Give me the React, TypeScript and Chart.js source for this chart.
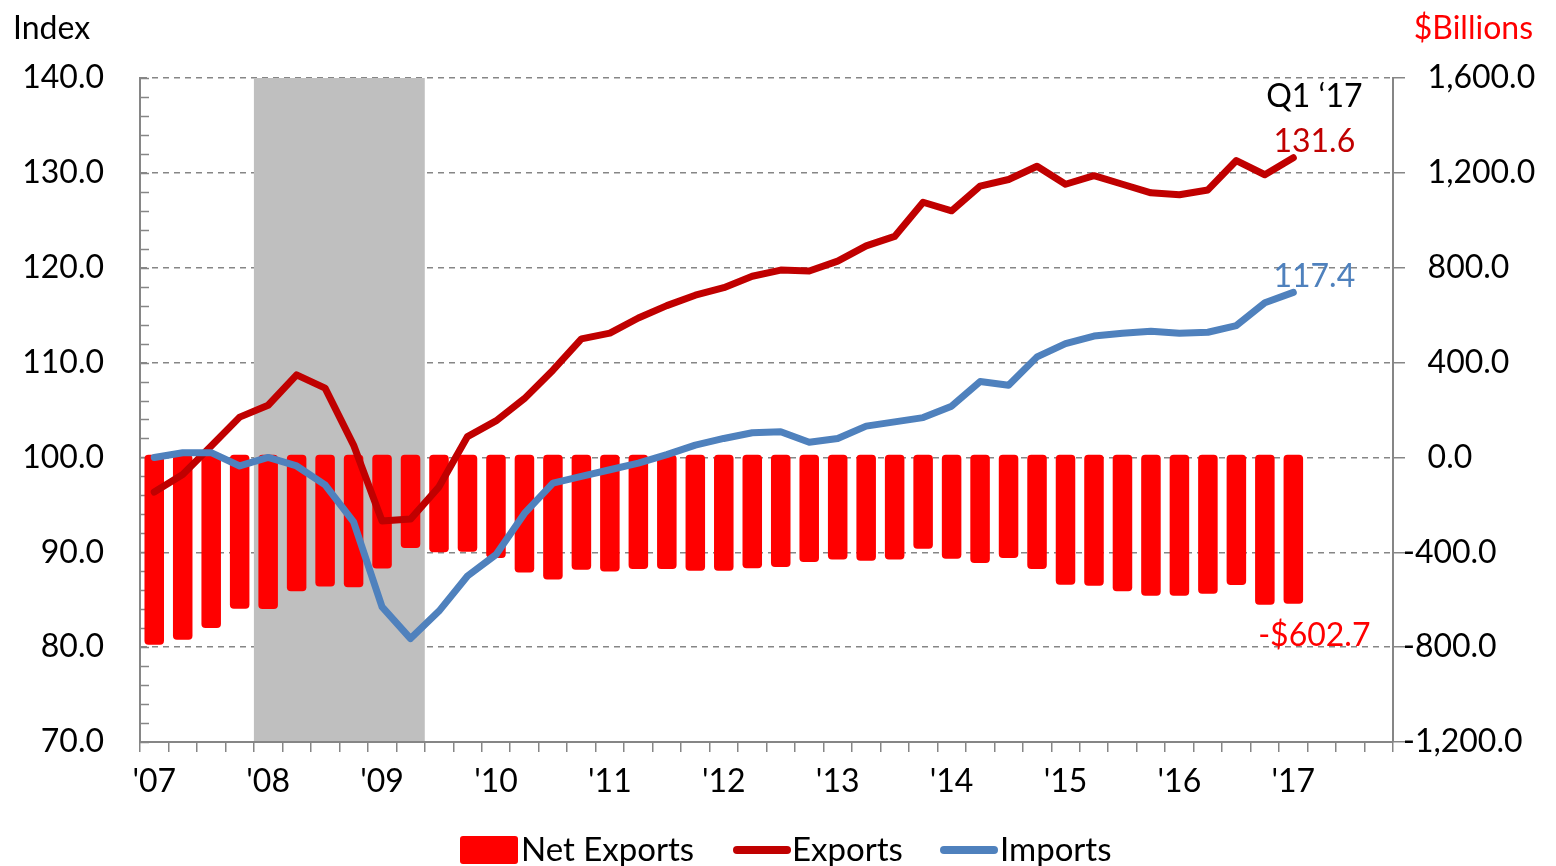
import React, { useEffect, useRef } from 'react';
import { Chart, registerables } from 'chart.js';

Chart.register(...registerables);

// ---- data ----
const yearLabels = ["'07", "'08", "'09", "'10", "'11", "'12", "'13", "'14", "'15", "'16", "'17"];
const quarterNames = ['Q1', 'Q2', 'Q3', 'Q4'];
const quarters: string[] = yearLabels.flatMap((y) => quarterNames.map((q) => `${q} ${y}`));

// Net exports, $ billions (right axis), Q1 '07 .. Q1 '17
const netExports = [
  -775, -754, -704, -623, -624, -550, -529, -533, -454, -367,
  -385, -383, -409, -471, -500, -459, -466, -456, -456, -463,
  -463, -453, -447, -426, -416, -421, -416, -370, -412, -430,
  -409, -456, -522, -526, -550, -568, -568, -560, -523, -606,
  -602.7,
];

// Exports index (left axis)
const exportsIdx = [
  96.35, 98.2, 101.2, 104.25, 105.5, 108.7, 107.3, 101.3, 93.3, 93.5,
  96.9, 102.2, 103.85, 106.2, 109.2, 112.5, 113.1, 114.7, 116.0, 117.1,
  117.9, 119.1, 119.75, 119.65, 120.7, 122.3, 123.3, 126.9, 126.0, 128.6,
  129.3, 130.7, 128.8, 129.7, 128.8, 127.9, 127.7, 128.2, 131.3, 129.8,
  131.6,
];

// Imports index (left axis)
const importsIdx = [
  100.0, 100.5, 100.5, 99.1, 100.0, 99.1, 97.1, 93.2, 84.25, 80.9,
  83.8, 87.5, 89.75, 94.1, 97.3, 98.0, 98.7, 99.4, 100.3, 101.3,
  102.0, 102.6, 102.7, 101.6, 102.0, 103.3, 103.75, 104.2, 105.4, 108.0,
  107.6, 110.6, 112.0, 112.8, 113.1, 113.3, 113.1, 113.2, 113.9, 116.3,
  117.4,
];

const recessionStart = "Q1 '08";
const recessionEnd = "Q2 '09";

const latestLabel = 'Q1 \u201817';
const exportsLabel = '131.6';
const importsLabel = '117.4';
const netLabel = '-$602.7';

const FONT = 'Lato, "Open Sans", sans-serif';
const AXIS_GRAY = '#868686';
const C_BAR = '#FF0000';
const C_EXP = '#C00000';
const C_IMP = '#4F81BD';

function fmtRight(v: number): string {
  const s = Math.abs(v).toLocaleString('en-US', { minimumFractionDigits: 1, maximumFractionDigits: 1 });
  return v < 0 ? '-' + s : '   ' + s;
}

const overlayPlugin = {
  id: 'overlay',
  beforeDatasetsDraw(chart: any) {
    const { ctx, chartArea, scales } = chart;
    const x = scales.x;
    const y = scales.y;
    const i0 = quarters.indexOf(recessionStart);
    const i1 = quarters.indexOf(recessionEnd);
    const xa = x.getPixelForValue(i0 - 0.5);
    const xb = x.getPixelForValue(i1 + 0.5);
    ctx.save();
    ctx.fillStyle = '#BFBFBF';
    ctx.fillRect(xa, chartArea.top, xb - xa, chartArea.bottom - chartArea.top - 1);
    // inside minor ticks on left axis
    ctx.strokeStyle = AXIS_GRAY;
    ctx.lineWidth = 1.5;
    for (let v = y.min; v <= y.max; v += 2) {
      const py = Math.round(y.getPixelForValue(v)) + 0.5;
      ctx.beginPath();
      ctx.moveTo(chartArea.left, py);
      ctx.lineTo(chartArea.left + 9, py);
      ctx.stroke();
    }
    ctx.restore();
  },
  afterDraw(chart: any) {
    const { ctx, scales } = chart;
    const x = scales.x;
    const y = scales.y;
    const y1 = scales.y1;
    const last = exportsIdx.length - 1;
    const px = x.getPixelForValue(last) + 21;
    ctx.save();
    ctx.textBaseline = 'middle';
    ctx.font = `32px ${FONT}`;
    // axis titles
    ctx.textAlign = 'left';
    ctx.fillStyle = '#000';
    ctx.fillText('Index', 13, 29);
    ctx.textAlign = 'right';
    ctx.fillStyle = C_BAR;
    ctx.fillText('$Billions', 1533, 29);
    // annotations
    ctx.textAlign = 'center';
    ctx.fillStyle = '#000';
    ctx.fillText(latestLabel, px, y.getPixelForValue(exportsIdx[last]) - 61);
    ctx.fillStyle = C_EXP;
    ctx.fillText(exportsLabel, px, y.getPixelForValue(exportsIdx[last]) - 16);
    ctx.fillStyle = C_IMP;
    ctx.fillText(importsLabel, px, y.getPixelForValue(importsIdx[last]) - 16);
    ctx.fillStyle = C_BAR;
    ctx.fillText(netLabel, px, y1.getPixelForValue(netExports[last]) + 35);

    // legend
    const ly = 850;
    ctx.font = `33px ${FONT}`;
    ctx.textAlign = 'left';
    ctx.fillStyle = C_BAR;
    ctx.beginPath();
    (ctx as any).roundRect(460, 836, 58, 28, 3);
    ctx.fill();
    ctx.fillStyle = '#000';
    ctx.fillText('Net Exports', 521, ly);
    ctx.lineCap = 'round';
    ctx.lineWidth = 8;
    ctx.strokeStyle = C_EXP;
    ctx.beginPath();
    ctx.moveTo(737, ly);
    ctx.lineTo(787, ly);
    ctx.stroke();
    ctx.fillText('Exports', 792, ly);
    ctx.strokeStyle = C_IMP;
    ctx.beginPath();
    ctx.moveTo(944, ly);
    ctx.lineTo(994, ly);
    ctx.stroke();
    ctx.fillText('Imports', 1000, ly);
    ctx.restore();
  },
};

export default function App() {
  const ref = useRef<HTMLCanvasElement | null>(null);

  useEffect(() => {
    document.body.style.margin = '0';
    const canvas = ref.current;
    if (!canvas) return;
    const tickFont = { family: FONT, size: 32 };
    const chart = new Chart(canvas, {
      type: 'bar',
      data: {
        labels: quarters,
        datasets: [
          {
            type: 'line',
            label: 'Imports',
            data: importsIdx,
            yAxisID: 'y',
            borderColor: C_IMP,
            backgroundColor: C_IMP,
            borderWidth: 7,
            pointRadius: 0,
            tension: 0,
            borderCapStyle: 'round',
            borderJoinStyle: 'round',
            fill: false,
            order: 1,
          } as any,
          {
            type: 'line',
            label: 'Exports',
            data: exportsIdx,
            yAxisID: 'y',
            borderColor: C_EXP,
            backgroundColor: C_EXP,
            borderWidth: 7,
            pointRadius: 0,
            tension: 0,
            borderCapStyle: 'round',
            borderJoinStyle: 'round',
            fill: false,
            order: 2,
          } as any,
          {
            type: 'bar',
            label: 'Net Exports',
            data: netExports,
            yAxisID: 'y1',
            backgroundColor: C_BAR,
            borderWidth: 0,
            borderRadius: { topLeft: 4, topRight: 4, bottomLeft: 4, bottomRight: 4 },
            borderSkipped: false,
            inflateAmount: 3.5,
            barPercentage: 0.44,
            categoryPercentage: 1,
            order: 3,
          } as any,
        ],
      },
      options: {
        responsive: false,
        animation: false,
        devicePixelRatio: 1,
        layout: { padding: { top: 78, bottom: 44, left: 0, right: 0 } },
        plugins: {
          legend: { display: false },
          tooltip: { enabled: false },
          title: { display: false },
        },
        scales: {
          x: {
            type: 'category',
            offset: true,
            grid: {
              display: true,
              offset: true,
              drawOnChartArea: false,
              drawTicks: true,
              tickLength: 10,
              color: AXIS_GRAY,
              lineWidth: 1.5,
            },
            border: { display: true, color: AXIS_GRAY, width: 2 },
            ticks: {
              autoSkip: false,
              maxRotation: 0,
              minRotation: 0,
              padding: 10,
              color: '#000',
              font: tickFont,
              callback: (_v: any, i: number) => (i % 4 === 0 ? yearLabels[i / 4] : ''),
            },
            afterFit: (s: any) => {
              s.height = 80;
            },
          },
          y: {
            position: 'left',
            min: 70,
            max: 140,
            ticks: {
              stepSize: 10,
              padding: 36,
              color: '#000',
              font: tickFont,
              callback: (v: any) => Number(v).toFixed(1),
            },
            grid: {
              color: AXIS_GRAY,
              lineWidth: 1.5,
              drawTicks: false,
            },
            border: { display: true, color: AXIS_GRAY, width: 2, dash: [6, 5] },
            afterFit: (s: any) => {
              s.width = 140;
            },
          },
          y1: {
            position: 'right',
            min: -1200,
            max: 1600,
            ticks: {
              stepSize: 400,
              padding: -2,
              color: '#000',
              font: tickFont,
              callback: (v: any) => fmtRight(Number(v)),
            },
            grid: {
              drawOnChartArea: false,
              drawTicks: true,
              tickLength: 12,
              color: AXIS_GRAY,
              lineWidth: 1.5,
            },
            border: { display: true, color: AXIS_GRAY, width: 2 },
            afterFit: (s: any) => {
              s.width = 163;
            },
          },
        },
      } as any,
      plugins: [overlayPlugin],
    });
    return () => chart.destroy();
  }, []);

  return (
    <div style={{ width: 1556, height: 866, position: 'relative', background: '#fff' }}>
      <canvas ref={ref} width={1556} height={866} style={{ display: 'block' }} />
    </div>
  );
}
